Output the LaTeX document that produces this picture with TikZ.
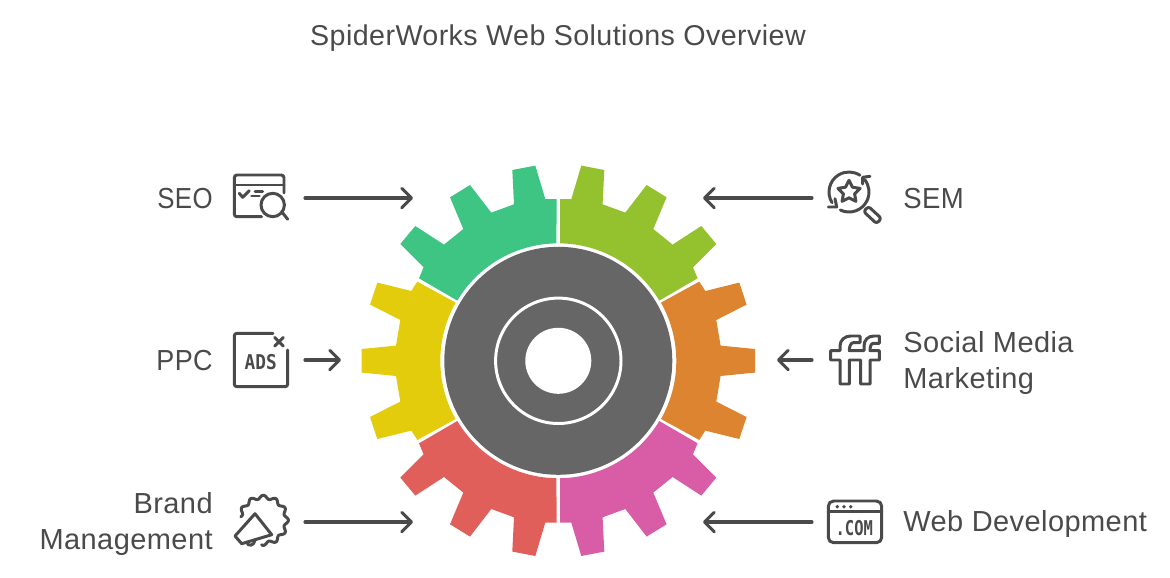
\documentclass[tikz,border=0pt]{standalone}
\usepackage{xcolor}
\usepackage{fontspec}
\usetikzlibrary{calc}
\usetikzlibrary{arrows.meta}
\setmainfont{Liberation Sans}[LetterSpace=1.5]
\newfontfamily\iconfont{DejaVu Sans Mono}[Scale=1]
\definecolor{inkgray}{HTML}{4A4A4A}
\definecolor{hubgray}{HTML}{666666}
\definecolor{seogreen}{HTML}{3EC483}
\definecolor{semlime}{HTML}{94C22F}
\definecolor{ppcyellow}{HTML}{E3CC0B}
\definecolor{smmorange}{HTML}{DD8431}
\definecolor{brandred}{HTML}{E05F5B}
\definecolor{webpink}{HTML}{D85CA6}
\tikzset{
  lbl/.style={font=\fontsize{16.5pt}{20.7pt}\selectfont, text=inkgray, inner sep=0pt},
  iconbox/.style={minimum width=1.74cm, minimum height=0.8cm, inner sep=0pt, outer sep=0pt},
  conn/.style={draw=inkgray, line width=1.75pt, line cap=round, -{Straight Barb[length=5.5pt,width=11pt,line width=1.75pt,round]}},
  icon/.style={draw=inkgray, line width=1.7pt, line cap=round, line join=round},
  icontext/.style={font=\iconfont\bfseries\fontsize{11.6pt}{12pt}\selectfont, text=inkgray, inner sep=0pt}
}

\begin{document}
\begin{tikzpicture}[x=0.02cm,y=-0.02cm]
    \useasboundingbox (0,0) rectangle (1170,578);
    \coordinate (hub) at (558.3,360.8);

    \node[lbl, font=\fontsize{16.3pt}{20pt}\selectfont] (title) at (558,38.5) {SpiderWorks Web Solutions Overview};

    % gear sectors, one of each kind, then mirrored
    \begin{scope}[shift={(hub)}]
        \foreach \sx/\sy/\col in {1/1/seogreen, -1/1/semlime, 1/-1/brandred, -1/-1/webpink} {
            \fill[\col, xscale=\sx, yscale=\sy] (-1.7,-161.8) -- (-13,-161.8) -- (-23,-195.2) -- (-46,-190.8) -- (-44.3,-156.5) -- (-67,-148.2) -- (-88.3,-175.8) -- (-108.3,-163.5) -- (-95,-131.8) -- (-114.3,-116.2) -- (-143,-134.8) -- (-158,-116.8) -- (-134.7,-93.5) -- (-139.3,-82.5) -- (-101,-60.2) arc[start angle=210.8, end angle=269.2, radius=117.3] -- cycle;
        }
        \foreach \sx/\col in {1/ppcyellow, -1/smmorange} {
            \fill[\col, xscale=\sx] (-102.7,-58.2) -- (-141,-79.2) -- (-147,-69.8) -- (-181,-78.2) -- (-188.3,-56.2) -- (-158,-40.8) -- (-162.3,-15.2) -- (-196.7,-11.8) -- (-196.7,11.8) -- (-162.3,15.2) -- (-158,40.8) -- (-188.3,56.2) -- (-181,78.2) -- (-147,69.8) -- (-141,79.2) -- (-102.7,58.2) arc[start angle=150.5, end angle=209.5, radius=118] -- cycle;
        }
        \fill[hubgray] (0,0) circle[radius=114];
        \draw[white, line width=1.7pt] (0,0) circle[radius=62.7];
        \fill[white] (0,0) circle[radius=33];
    \end{scope}

    % labels
    \node[lbl, anchor=east, xscale=0.89] (seo) at (213,198.5) {SEO};
    \node[lbl, anchor=east, xscale=0.93] (ppc) at (213,360.5) {PPC};
    \node[lbl, anchor=east, align=right] (brand) at (213,524) {Brand\\Management};
    \node[lbl, anchor=west, xscale=0.95] (sem) at (903,198.5) {SEM};
    \node[lbl, anchor=west, align=left] (smm) at (903,363) {Social Media\\Marketing};
    \node[lbl, anchor=west] (web) at (903,524) {Web Development};

    % icon places and connectors
    \node[iconbox] (seoicon) at (261.5,198) {};
    \node[iconbox] (ppcicon) at (261.5,360) {};
    \node[iconbox] (brandicon) at (261.5,522) {};
    \node[iconbox] (semicon) at (855.5,198) {};
    \node[iconbox] (smmicon) at (855.5,360) {};
    \node[iconbox] (webicon) at (855.5,522) {};

    \coordinate (seoend) at (413,198);
    \coordinate (ppcend) at (341,360);
    \coordinate (brandend) at (413,522);
    \coordinate (semend) at (703,198);
    \coordinate (smmend) at (777,360);
    \coordinate (webend) at (703,522);

    \draw[conn] (seoicon.east) -- (seoend);
    \draw[conn] (ppcicon.east) -- (ppcend);
    \draw[conn] (brandicon.east) -- (brandend);
    \draw[conn] (semicon.west) -- (semend);
    \draw[conn] (smmicon.west) -- (smmend);
    \draw[conn] (webicon.west) -- (webend);

    % SEO icon
    \draw[icon, rounded corners=1.5pt] (261.7,216.7) -- (234.3,216.7) -- (234.3,175) -- (284,175) -- (284,193);
    \draw[icon] (234.3,185) -- (284,185);
    \draw[icon] (239.3,193.3) -- (242.7,197.3) -- (249.3,190.7);
    \draw[icon] (255,191.7) -- (262.7,191.7);
    \draw[icon] (251.7,196) -- (259.3,196);
    \draw[icon] (272.7,205) circle[radius=11.7];
    \draw[icon] (281.7,211.7) -- (287.7,219.3);

    % PPC icon
    \draw[icon, rounded corners=1.5pt] (273,333.3) -- (234.3,333.3) -- (234.3,386.7) -- (287.7,386.7) -- (287.7,350);
    \draw[icon] (274.7,337.4) -- (283.3,346);
    \draw[icon] (283.3,337.4) -- (274.7,346);
    \node[icontext, xscale=0.87] (adstext) at (260.7,362.3) {ADS};

    % brand icon
    \draw[icon, shift={(263.3,520.3)}] plot[smooth, domain=189:454, samples=110] (\x:{23.3+1.8*cos(12*\x)});
    \draw[icon] (241.7,543.7) -- (235,536) -- (255,513.7) -- (271.7,534.7) -- cycle;
    \draw[icon] (246.7,542) .. controls (247.5,547) and (254.5,546) .. (255,540);

    % SEM icon
    \draw[icon] (849,192) ++(148:20) arc[start angle=148, end angle=303, radius=20];
    \draw[icon] (849,192) ++(115.7:20) arc[start angle=115.7, end angle=-38.7, radius=20];
    \draw[icon] (828.3,207) -- (836.7,207) -- (835,198.7);
    \draw[icon] (870,176.3) -- (862.7,177.3) -- (862.7,184);
    \draw[icon] (849,180.3) -- (852.5,187.2) -- (860.1,188.4) -- (854.6,193.8) -- (855.9,201.4) -- (849,197.8) -- (842.1,201.4) -- (843.4,193.8) -- (837.9,188.4) -- (845.5,187.2) -- cycle;
    \draw[icon, fill=white, rounded corners=1.5pt] (863.6,211.6) -- (876.6,223.6) -- (881.4,218.4) -- (868.4,206.4) -- cycle;

    % social icon
    \draw[icon] (840,384) -- (840,360) -- (830.7,360) -- (830.7,350.7) -- (840,350.7) -- (840,346) .. controls (840,340) and (845,336) .. (850.7,336) -- (860,336) -- (860,342.7) -- (853.3,342.7) .. controls (850.5,342.7) and (849.3,347) .. (849.3,350.7) -- (864,350.7) -- (864,346) .. controls (864,340) and (868,336) .. (874,336) -- (879.3,336) -- (879.3,343.3) -- (873.3,343.3) .. controls (871,343.3) and (870,347) .. (870,350.7) -- (879.3,350.7) -- (879.3,360) -- (870,360) -- (870,384) -- (860.7,384) -- (860.7,360) -- (849.3,360) -- (849.3,384) -- cycle;

    % web icon
    \draw[icon, rounded corners=3pt] (828.3,501) rectangle (881.7,542.7);
    \draw[icon] (828.3,511.7) -- (881.7,511.7);
    \foreach \dotx in {837.3,844,850.7} {
        \fill[inkgray] (\dotx,506.7) circle[radius=1.9];
    }
    \node[icontext, xscale=0.76] (comtext) at (854.3,527.7) {.COM};
\end{tikzpicture}
\end{document}
